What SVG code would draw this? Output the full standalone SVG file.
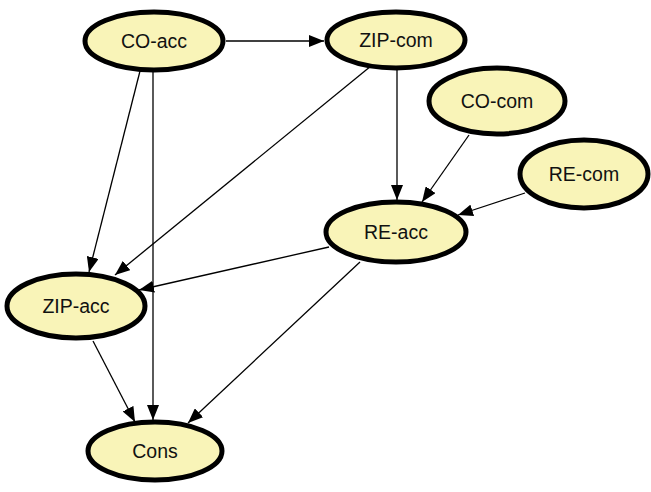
<svg xmlns="http://www.w3.org/2000/svg" width="651" height="492" viewBox="0 0 651 492">
<style>
.n ellipse{fill:#f9f4b8;stroke:#000;stroke-width:5}
.n text{font-family:"Liberation Sans",Arial,sans-serif;font-size:19.5px;fill:#111;text-anchor:middle;dominant-baseline:central}
.e line{stroke:#000;stroke-width:1.3;marker-end:url(#ah)}
</style>
<defs>
<marker id="ah" markerUnits="userSpaceOnUse" markerWidth="16" markerHeight="12" refX="15" refY="6" orient="auto">
<path d="M0,0 L15,6 L0,12 z" fill="#000"/>
</marker>
</defs>
<rect width="651" height="492" fill="#fff"/>
<g id="edges" class="e">
<line x1="226" y1="41" x2="324" y2="41"/>
<line x1="140" y1="71" x2="89" y2="272"/>
<line x1="153" y1="72" x2="153" y2="420"/>
<line x1="371" y1="66" x2="115" y2="275"/>
<line x1="397" y1="70" x2="397" y2="200"/>
<line x1="469" y1="135" x2="422" y2="202"/>
<line x1="525" y1="193" x2="458" y2="215"/>
<line x1="329" y1="247" x2="139" y2="290"/>
<line x1="360" y1="262" x2="188" y2="423"/>
<line x1="93" y1="341" x2="135" y2="422"/>
</g>
<g id="CO-acc" class="n"><ellipse cx="154" cy="41" rx="69" ry="29"/><text x="154" y="41">CO-acc</text></g>
<g id="ZIP-com" class="n"><ellipse cx="396" cy="40" rx="69" ry="28"/><text x="396" y="40">ZIP-com</text></g>
<g id="CO-com" class="n"><ellipse cx="497" cy="101" rx="68" ry="33"/><text x="497" y="101">CO-com</text></g>
<g id="RE-com" class="n"><ellipse cx="584" cy="174" rx="64" ry="34"/><text x="584" y="174">RE-com</text></g>
<g id="RE-acc" class="n"><ellipse cx="396" cy="232" rx="70" ry="30"/><text x="396" y="232">RE-acc</text></g>
<g id="ZIP-acc" class="n"><ellipse cx="76" cy="306" rx="69" ry="32"/><text x="76" y="306">ZIP-acc</text></g>
<g id="Cons" class="n"><ellipse cx="155" cy="451" rx="67" ry="29"/><text x="155" y="451">Cons</text></g>
</svg>
